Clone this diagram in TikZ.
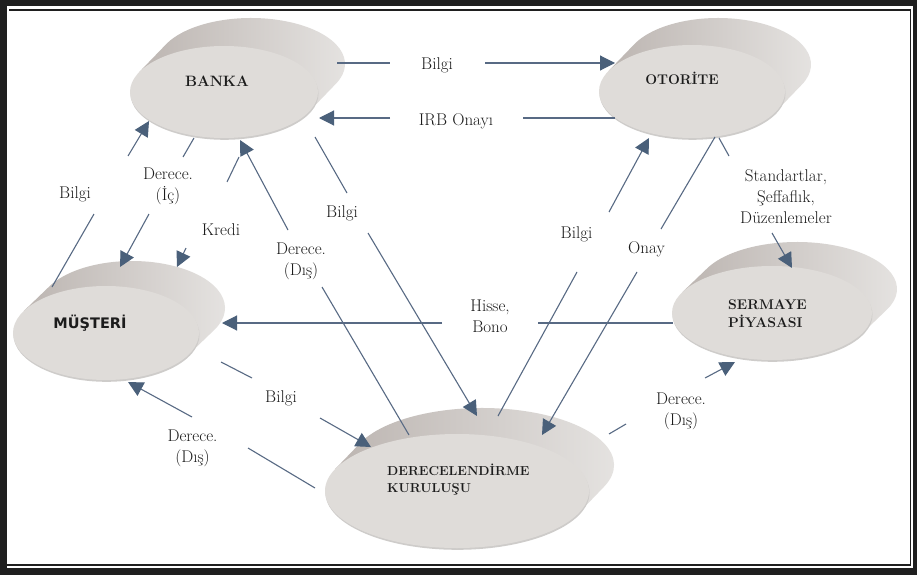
\documentclass[tikz,border=0pt]{standalone}
\usepackage{fontspec}
\newfontfamily\dejavu{DejaVu Sans}
\usetikzlibrary{arrows.meta}
\definecolor{lineC}{RGB}{88,106,132}
\definecolor{arrC}{RGB}{74,96,122}
\definecolor{faceC}{RGB}{223,220,217}
\definecolor{sideL}{RGB}{188,181,177}
\definecolor{sideR}{RGB}{231,229,227}
\definecolor{shadC}{RGB}{206,204,202}
\definecolor{txtC}{RGB}{28,28,28}
\newcommand\drawdisc[6]{%
  \pgfmathsetmacro\dTa{atan2(-(#4)*(#5),(#3)*(#6))}%
  \pgfmathsetmacro\dTb{\dTa+180}%
  \shade[left color=sideL, right color=sideR]
    ({#1+(#3)*cos(\dTa)},{#2+(#4)*sin(\dTa)}) -- ++(#5,#6)
    arc[start angle=\dTa, end angle=\dTb, x radius=#3, y radius=#4]
    -- ({#1+(#3)*cos(\dTb)},{#2+(#4)*sin(\dTb)}) -- cycle;
  \fill[shadC] (#1+0.5,#2-1.8) ellipse[x radius=#3, y radius=#4];
  \fill[faceC] (#1,#2) ellipse[x radius=#3, y radius=#4];
}
\tikzset{
  conn/.style={draw=lineC, line width=1.1pt},
  arr/.style={conn, -{Triangle[length=15pt,width=15pt,color=arrC,fill=arrC]}},
  lab/.style={inner sep=0pt, anchor=base, align=center, text=txtC,
    font=\fontsize{17}{21}\selectfont},
  disctext/.style={inner sep=0pt, text=txtC}
}
\begin{document}
\begin{tikzpicture}[x=1pt,y=1pt]
\useasboundingbox (0,0) rectangle (917,-575);
% frame
\fill[black!88] (0,0) rectangle (917,-575);
\fill[white] (7,-6) rectangle (912.5,-568);
\draw[black!88, line width=1.6pt] (9,-10) -- (910.5,-10) -- (910.5,-565) -- (7,-565);

% discs
\drawdisc{224}{-92}{94}{46}{27}{28}
\drawdisc{692}{-91.5}{93}{46.5}{26}{27}
\drawdisc{106}{-333}{93}{47}{26}{25}
\drawdisc{772}{-313}{100}{47}{25}{24}
\drawdisc{457}{-491}{132}{57}{25}{26}

% disc texts
\node[disctext, anchor=base, font=\fontsize{15}{17}\selectfont\bfseries] (banka) at (217,-87) {BANKA};
\node[disctext, anchor=base, font=\fontsize{14}{17}\selectfont\bfseries] (otorite) at (682,-85) {OTORİTE};
\node[disctext, anchor=base, font=\dejavu\fontsize{14.5}{17}\selectfont\bfseries] (musteri) at (90,-328) {MÜŞTERİ};
\node[disctext, anchor=base west, align=left, font=\fontsize{14}{17.5}\selectfont\bfseries] (sermaye) at (728,-327) {SERMAYE\\PİYASASI};
\node[disctext, anchor=base west, align=left, font=\fontsize{13}{17}\selectfont\bfseries] (derece) at (387,-492) {DERECELENDİRME\\KURULUŞU};

% coordinates
\coordinate (c1a) at (337,-63);  \coordinate (c1b) at (390,-63);
\coordinate (c1c) at (485,-63);  \coordinate (c1d) at (615,-63);
\coordinate (c2a) at (615,-118); \coordinate (c2b) at (523,-118);
\coordinate (c2c) at (390,-118); \coordinate (c2d) at (319,-118);
\coordinate (c3a) at (52,-287);  \coordinate (c3b) at (94,-214);
\coordinate (c3c) at (128,-156); \coordinate (c3d) at (149,-121);
\coordinate (c4a) at (194,-138); \coordinate (c4b) at (183,-157);
\coordinate (c4c) at (149,-214); \coordinate (c4d) at (120,-267);
\coordinate (c5a) at (239,-157); \coordinate (c5b) at (227,-182);
\coordinate (c5c) at (186,-248); \coordinate (c5d) at (177,-267);
\coordinate (c6a) at (409,-435); \coordinate (c6b) at (322,-287);
\coordinate (c6c) at (288,-230); \coordinate (c6d) at (240,-140);
\coordinate (c7a) at (315,-137); \coordinate (c7b) at (347,-193);
\coordinate (c7c) at (368,-233); \coordinate (c7d) at (477,-416);
\coordinate (c8a) at (498,-416); \coordinate (c8b) at (577,-272);
\coordinate (c8c) at (609,-212); \coordinate (c8d) at (649,-138);
\coordinate (c9a) at (715,-137); \coordinate (c9b) at (661,-229);
\coordinate (c9c) at (637,-272); \coordinate (c9d) at (542,-435);
\coordinate (c10a) at (719,-138); \coordinate (c10b) at (729,-156);
\coordinate (c10c) at (772,-233); \coordinate (c10d) at (792,-268);
\coordinate (c11a) at (673,-323); \coordinate (c11b) at (538,-323);
\coordinate (c11c) at (442,-323); \coordinate (c11d) at (222,-323);
\coordinate (c12a) at (221,-362); \coordinate (c12b) at (252,-378);
\coordinate (c12c) at (320,-418); \coordinate (c12d) at (371,-447);
\coordinate (c13a) at (315,-488); \coordinate (c13b) at (248,-448);
\coordinate (c13c) at (192,-417); \coordinate (c13d) at (128,-382);
\coordinate (c14a) at (609,-434); \coordinate (c14b) at (626,-424);
\coordinate (c14c) at (705,-378); \coordinate (c14d) at (735,-362);

% connectors
\foreach \k in {1,...,14}{
  \draw[conn] (c\k a) -- (c\k b);
  \draw[arr] (c\k c) -- (c\k d);
}

% labels (base = baseline of last line)
\node[lab] (l1) at (437,-69.5) {Bilgi};
\node[lab] (l2) at (456,-125) {IRB Onayı};
\node[lab] (l3) at (75,-198) {Bilgi};
\node[lab] (l4) at (168,-200) {Derece.\\(İç)};
\node[lab] (l5) at (221,-235) {Kredi};
\node[lab] (l6) at (301,-275) {Derece.\\(Dış)};
\node[lab] (l7) at (342,-217) {Bilgi};
\node[lab] (l8) at (576.5,-238) {Bilgi};
\node[lab] (l9) at (646.5,-253) {Onay};
\node[lab] (l10) at (786,-223) {Standartlar,\\Şeffaflık,\\Düzenlemeler};
\node[lab] (l11) at (490,-332) {Hisse,\\Bono};
\node[lab] (l12) at (281,-402) {Bilgi};
\node[lab] (l13) at (192.5,-462) {Derece.\\(Dış)};
\node[lab] (l14) at (681,-425) {Derece.\\(Dış)};
\end{tikzpicture}
\end{document}
